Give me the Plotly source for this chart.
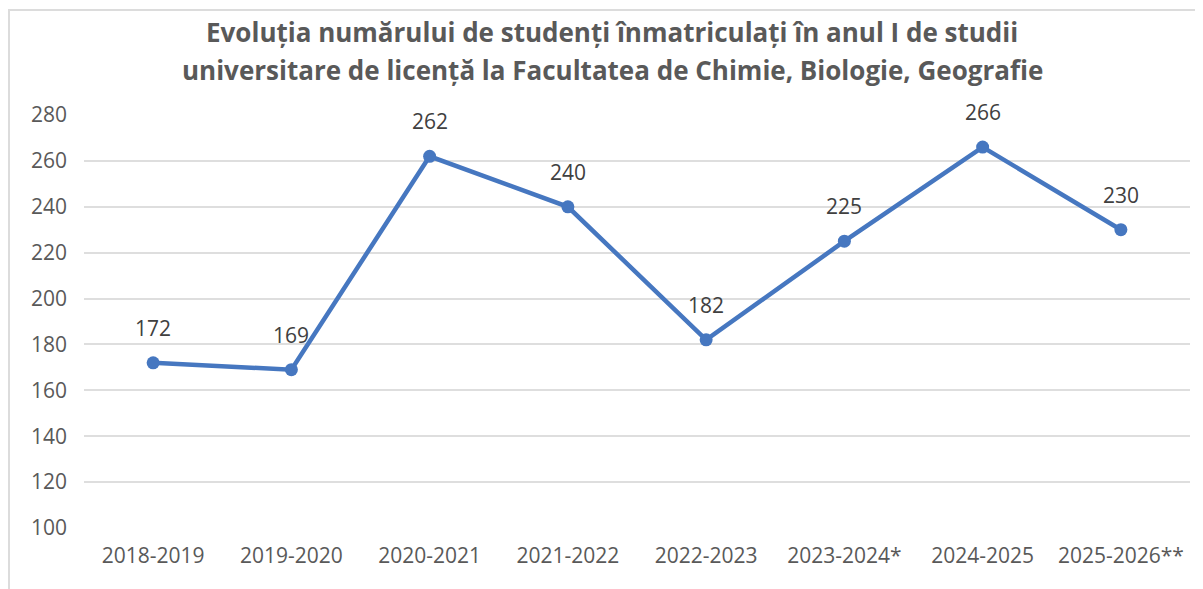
import plotly.graph_objects as go

categories = ["2018-2019", "2019-2020", "2020-2021", "2021-2022",
              "2022-2023", "2023-2024*", "2024-2025", "2025-2026**"]
students = [172, 169, 262, 240, 182, 225, 266, 230]
y_ticks = [100, 120, 140, 160, 180, 200, 220, 240, 260, 280]

title_line1 = "Evoluția numărului de studenți înmatriculați în anul I de studii"
title_line2 = "universitare de licență la Facultatea de Chimie, Biologie, Geografie"

# page body has an 8px margin; figure sized so it fits in the 1203x589 window
OFF = 8
W, H = 1203 - OFF, 589 - OFF
L, R, T, B = 84 - OFF, 1203 - 1190, 115 - OFF, 589 - 528
pw, ph = W - L - R, H - T - B

def px_x(x):  # page pixel -> paper coordinate
    return (x - OFF - L) / pw

def px_y(y):
    return (H - B - (y - OFF)) / ph

line_color = "#4677c0"
font_family = "Open Sans"
small = 21

fig = go.Figure()
fig.add_trace(go.Scatter(
    x=categories, y=students, mode="lines+markers",
    line=dict(color=line_color, width=4.5),
    marker=dict(color=line_color, size=13),
    hoverinfo="x+y", showlegend=False,
))

annotations = []
for c, v in zip(categories, students):
    annotations.append(dict(
        x=c, y=v, xref="x", yref="y", text=str(v), showarrow=False,
        yshift=35, font=dict(family=font_family, size=small, color="#404040"),
    ))
annotations.append(dict(
    x=px_x(612), y=px_y(32), xref="paper", yref="paper", text=f"<b>{title_line1}</b>",
    showarrow=False, xanchor="center", yanchor="middle",
    font=dict(family=font_family, size=26, color="#595959"),
))
annotations.append(dict(
    x=px_x(612), y=px_y(70), xref="paper", yref="paper", text=f"<b>{title_line2}</b>",
    showarrow=False, xanchor="center", yanchor="middle",
    font=dict(family=font_family, size=26, color="#595959"),
))

border = "#dcdcdc"
shapes = [
    dict(type="line", xref="paper", yref="paper", x0=px_x(8), x1=px_x(1215),
         y0=px_y(10), y1=px_y(10), line=dict(color=border, width=2)),
    dict(type="line", xref="paper", yref="paper", x0=px_x(9), x1=px_x(9),
         y0=px_y(10), y1=px_y(600), line=dict(color=border, width=2)),
]

fig.update_layout(
    width=W, height=H,
    margin=dict(l=L, r=R, t=T, b=B, pad=0),
    paper_bgcolor="white", plot_bgcolor="white",
    annotations=annotations, shapes=shapes,
    xaxis=dict(
        type="category", range=[-0.5, len(categories) - 0.5],
        showgrid=False, zeroline=False, showline=False, ticks="",
        tickfont=dict(family=font_family, size=small, color="#595959"),
        ticklabelstandoff=13,
    ),
    yaxis=dict(
        range=[100, 280], tickvals=y_ticks, showgrid=True,
        gridcolor="#dedede", gridwidth=2, zeroline=False, showline=False, ticks="",
        tickfont=dict(family=font_family, size=small, color="#595959"),
        ticklabelstandoff=16,
    ),
)

fig.write_html("out.html")
